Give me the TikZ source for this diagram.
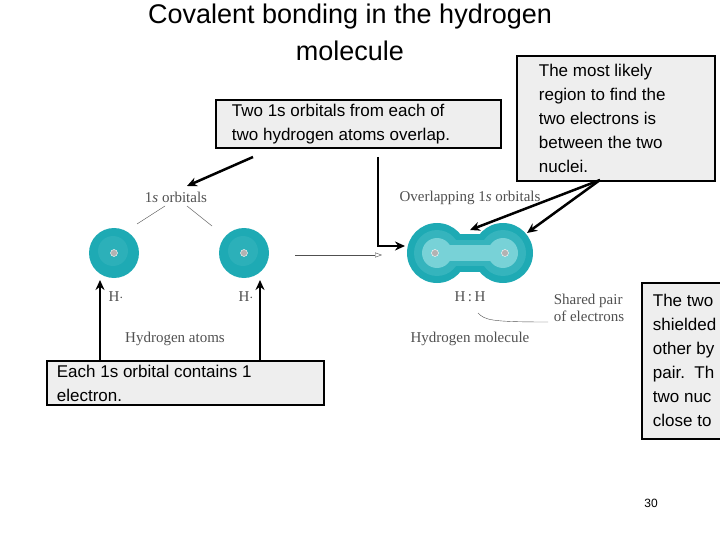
\documentclass[tikz,border=0pt]{standalone}
\usepackage{fontspec}
\setmainfont{Liberation Sans}
\newfontfamily\serif{Liberation Serif}
\usetikzlibrary{arrows.meta}
\definecolor{teal1}{RGB}{30,170,180}
\definecolor{teal2}{RGB}{120,210,215}
\definecolor{boxbg}{RGB}{238,238,238}
\definecolor{lbl}{RGB}{80,80,80}
\begin{document}
\begin{tikzpicture}[x=1pt,y=-1pt,
  callout/.style={draw=black,line width=1.8pt,fill=boxbg,align=flush left,font=\fontsize{17}{24}\selectfont,inner ysep=4pt,anchor=north west},
  lab/.style={text=lbl,font=\serif\fontsize{15}{17}\selectfont},
  pointer/.style={line width=2.5pt,-{Stealth[length=10pt,width=9pt]}},
  nuc/.style={circle,fill=gray!60,draw=white,inner sep=0pt,minimum size=7pt}]
\useasboundingbox (0,0) rectangle (720,540);
\clip (0,0) rectangle (720,540);
% title
\node (title) at (350,32) [align=center,font=\fontsize{27}{37}\selectfont] {Covalent bonding in the hydrogen\\molecule};
% atoms
\fill[teal1] (114,253) circle (25);
\fill[teal1!85!teal2] (113,251) circle (15);
\node[nuc] (n1) at (114,253) {};
\fill[teal1] (244,253) circle (25);
\fill[teal1!85!teal2] (243,251) circle (15);
\node[nuc] (n2) at (244,253) {};
% molecule
\fill[teal1] (437,253) circle (30);
\fill[teal1] (503,253) circle (30);
\fill[teal1] (437,234) rectangle (503,272);
\fill[teal1!75!teal2] (437,253) circle (23);
\fill[teal1!75!teal2] (503,253) circle (23);
\fill[teal1!75!teal2] (437,240) rectangle (503,266);
\fill[teal2] (437,253) circle (15);
\fill[teal2] (503,253) circle (15);
\fill[teal2] (437,245) rectangle (503,261);
\node[nuc] (n3) at (435,253) {};
\node[nuc] (n4) at (505,253) {};
\coordinate (mol) at (405,246);
% labels
\node[lab] (orb) at (176,197) {1\textit{s} orbitals};
\draw[lbl,thin] (165,206) -- (137,224) (187,206) -- (212,226);
\node[lab] (ovl) at (470,198) {Overlapping 1\textit{s} orbitals};
\node[lab] (h1) at (116,297) {H$\cdot$};
\node[lab] (h2) at (246,297) {H$\cdot$};
\node[lab] (hh) at (470,297) {H\,:\,H};
\node[lab,align=left] (sp) at (589,308) {Shared pair\\of electrons};
\draw[lbl] (478,313) .. controls (485,320) and (490,322) .. (548,322);
\node[lab] (ha) at (175,339) {Hydrogen atoms};
\node[lab] (hm) at (470,339) {Hydrogen molecule};
\coordinate (ra) at (295,255);
\coordinate (rb) at (382,255);
\draw[lbl,-{Triangle[open,length=7pt,width=5pt]}] (ra) -- (rb);
% callouts
\node[callout,inner xsep=16pt,text width=253pt] (b1) at (215,99) {Two 1s orbitals from each of\\two hydrogen atoms overlap.};
\node[callout,inner xsep=22pt,text width=154pt,minimum height=125pt] (b2) at (516,55) {The most likely\\region to find the\\two electrons is\\between the two\\nuclei.};
\node[callout,inner xsep=10pt,text width=257pt] (b3) at (46,360) {Each 1s orbital contains 1\\electron.};
\node[callout,inner xsep=11pt,text width=90pt,minimum height=156pt] (b4) at (641,282) {The two\\shielded\\other by\\pair.\ \ Th\\two nuc\\close to};
\node (pg) at (651,503) {\fontsize{12}{14}\selectfont 30};
% pointers
\draw[pointer] (253,157) -- (187,186);
\draw[pointer] (378,157) -- (378,246) -- (mol);
\draw[pointer] (600,180) -- (470,230);
\draw[pointer] (600,180) -- (527,233);
\draw[pointer] (100,360) -- (100,280);
\draw[pointer] (260,360) -- (260,280);
\end{tikzpicture}
\end{document}
